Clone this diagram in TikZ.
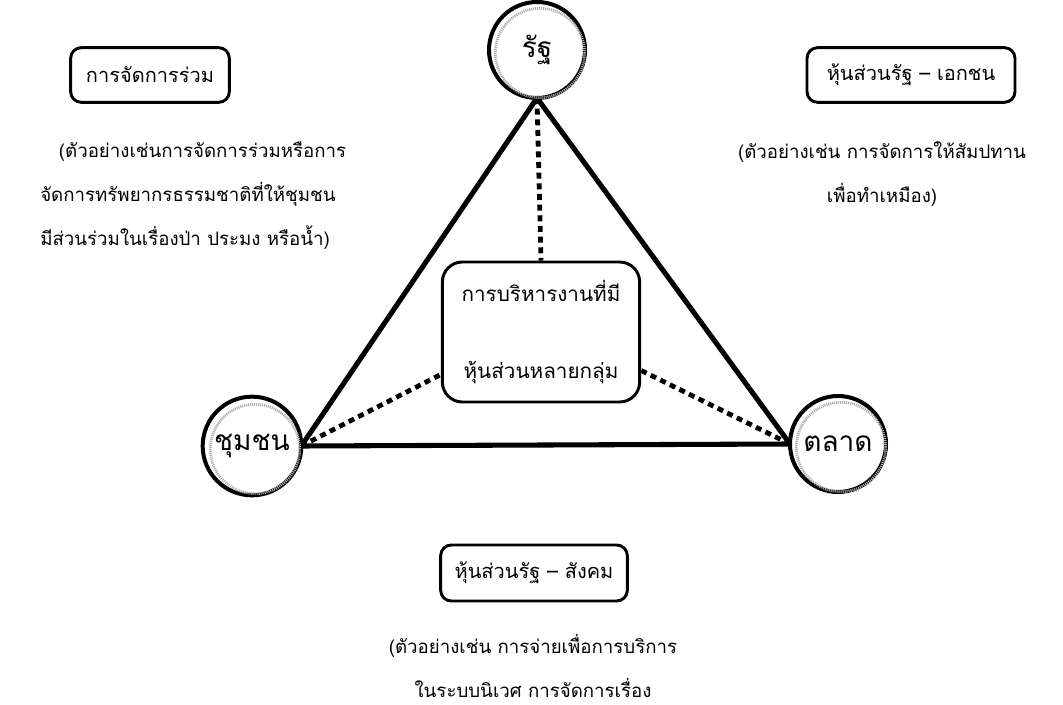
\documentclass[tikz,border=0pt]{standalone}
\usepackage{fontspec}
\newfontfamily\thai[Script=Thai]{Loma}
\usetikzlibrary{calc,backgrounds}
\begin{document}
\begin{tikzpicture}[x=0.75pt,y=-0.75pt,
  actor/.style={circle,draw=black,fill=white,line width=3pt,minimum size=72pt,inner sep=0pt,outer sep=0pt,font=\thai\fontsize{21pt}{24pt}\selectfont},
  ring/.style={draw=gray!65,line width=2pt,dash pattern=on 0.8pt off 0.7pt},
  tag/.style={draw=black,line width=2.2pt,rounded corners=8pt,inner xsep=9pt,inner ysep=8pt,fill=white,font=\thai\fontsize{15pt}{18pt}\selectfont},
  note/.style={font=\thai\fontsize{14pt}{33pt}\selectfont,inner sep=0pt},
  side/.style={line width=3.8pt},
  link/.style={line width=3.6pt,dash pattern=on 4.5pt off 3.5pt}]
\useasboundingbox (0,0) rectangle (1063,705);

% actors
\node[actor] (rat) at (537,50) {รัฐ};
\node[actor,minimum size=74pt] (chum) at (252,446) {ชุมชน};
\node[actor] (talad) at (838,444) {ตลาด};

% decorative rings
\foreach \n in {rat,chum,talad}{
  \draw[ring] ([shift={(3,3)}]\n.center) circle[radius=33.5pt];
}

% central box
\node[draw=black,line width=2.2pt,rounded corners=15pt,fill=white,minimum width=148pt,minimum height=105pt,inner sep=0pt,
      align=center,font=\thai\fontsize{15.5pt}{58pt}\selectfont] (mid) at (541,332)
      {การบริหารงานที่มี\\หุ้นส่วนหลายกลุ่ม};

\begin{scope}[on background layer]
  \draw[side] (rat.south) -- (chum.east) -- (talad.west) -- cycle;
  \draw[link] (rat.south) -- (mid.north);
  \draw[link] (chum.east) -- ($(mid.south west)+(0,-29)$);
  \draw[link] (talad.west) -- ($(mid.south east)+(0,-33)$);
\end{scope}

% corner tags
\node[tag,minimum width=119pt,minimum height=41pt] (joint) at (150,75) {การจัดการร่วม};
\node[tag,minimum width=156pt,minimum height=41pt] (ppp) at (911,75) {หุ้นส่วนรัฐ – เอกชน};
\node[tag,minimum width=140pt,minimum height=42pt] (psp) at (534,573) {หุ้นส่วนรัฐ – สังคม};

% notes
\node[note,align=left,anchor=west] (jointnote) at (40,196)
  {\hspace{14pt}(ตัวอย่างเช่นการจัดการร่วมหรือการ\\จัดการทรัพยากรธรรมชาติที่ให้ชุมชน\\มีส่วนร่วมในเรื่องป่า ประมง หรือน้ำ)};
\node[note,align=center] (pppnote) at (882,174)
  {(ตัวอย่างเช่น การจัดการให้สัมปทาน\\เพื่อทำเหมือง)};
\node[note,align=center] (pspnote) at (533,666)
  {(ตัวอย่างเช่น การจ่ายเพื่อการบริการ\\ในระบบนิเวศ การจัดการเรื่อง};
\end{tikzpicture}
\end{document}
